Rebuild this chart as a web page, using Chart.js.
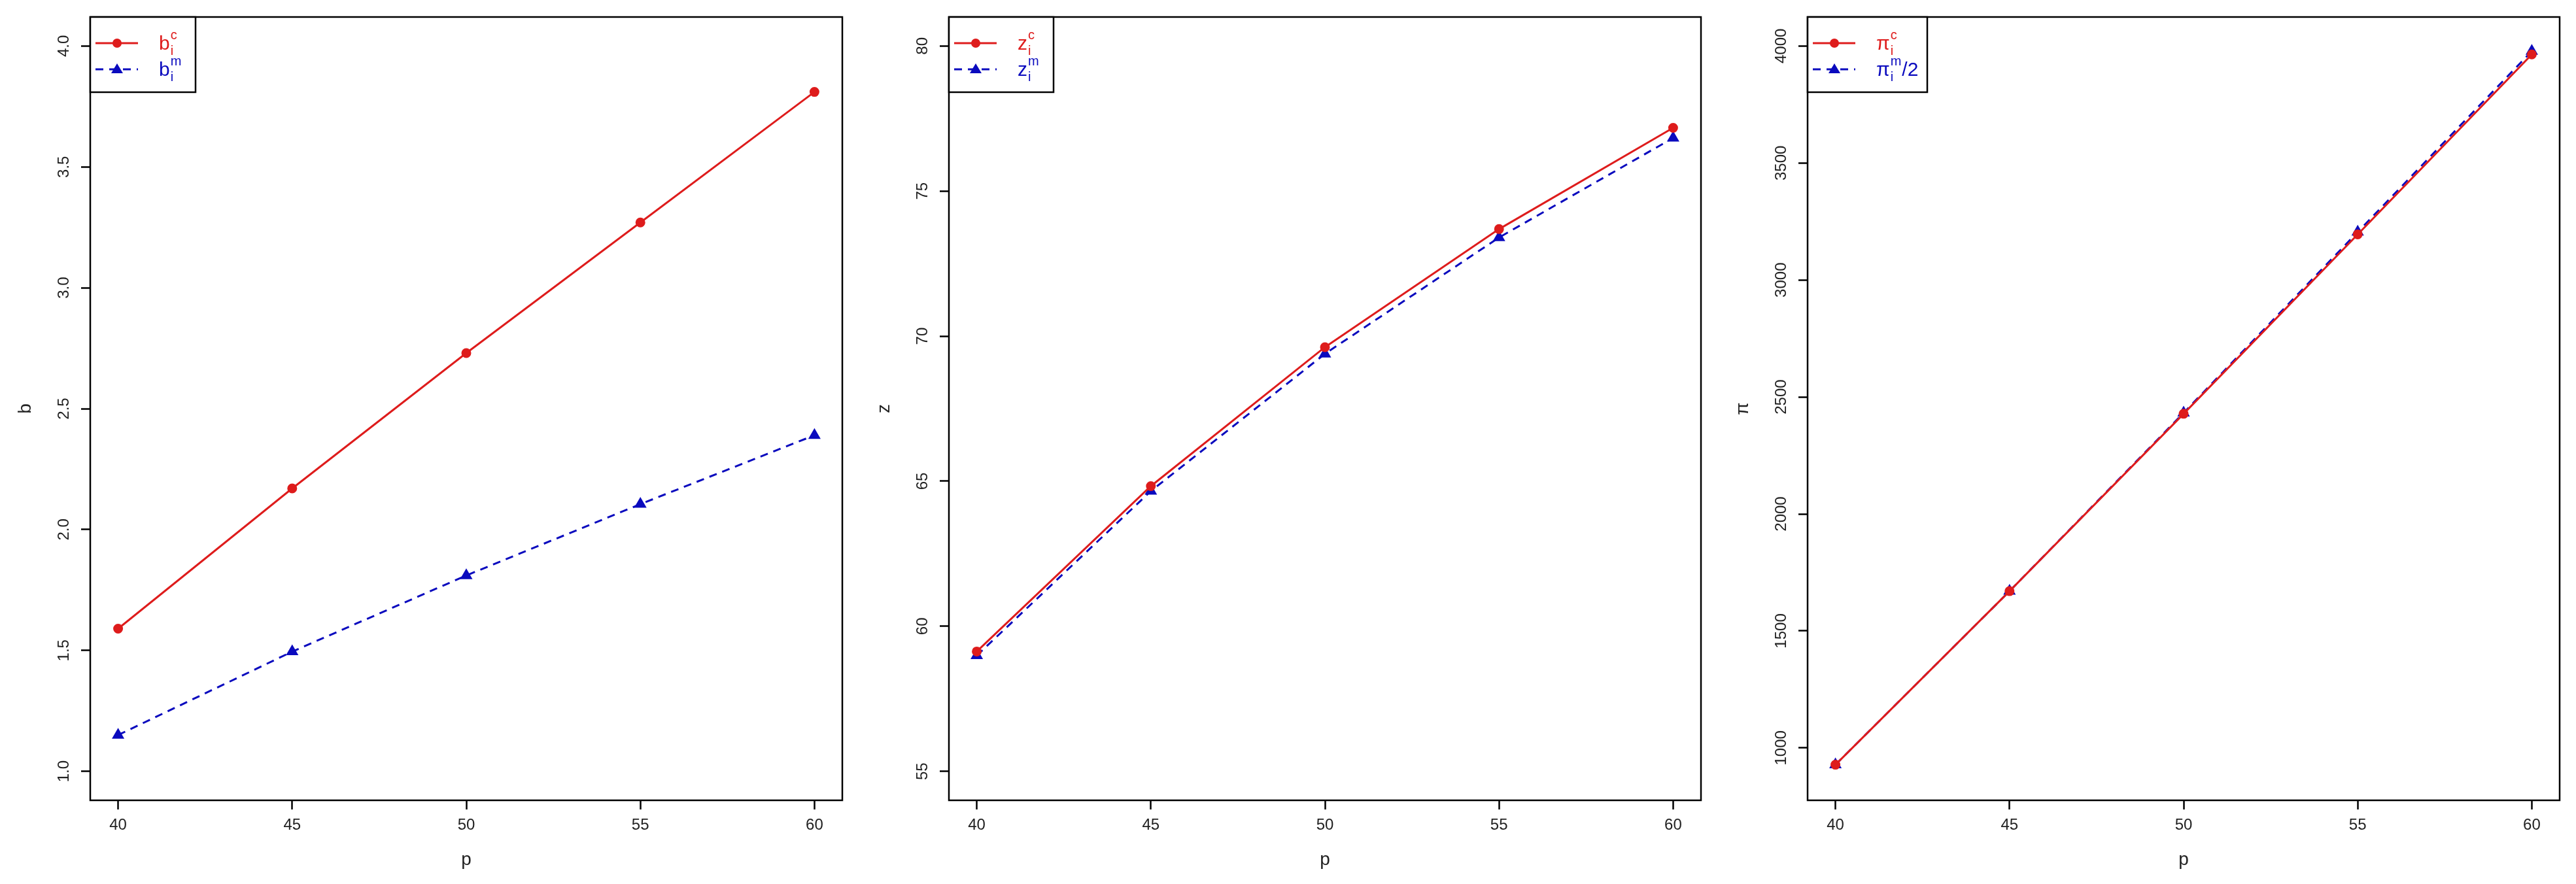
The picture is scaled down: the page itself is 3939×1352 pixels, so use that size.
<!DOCTYPE html>
<html>
<head>
<meta charset="utf-8">
<script src="https://cdn.jsdelivr.net/npm/chart.js@4"></script>
<style>
  body { margin: 0; background: #fff; }
  .row { display: flex; width: 3939px; height: 1352px; }
  canvas { display: block; }
</style>
</head>
<body>
<div class="row">
  <canvas id="chartB" width="1313" height="1352"></canvas>
  <canvas id="chartZ" width="1313" height="1352"></canvas>
  <canvas id="chartPi" width="1313" height="1352"></canvas>
</div>
<script>
// Data
const pValues = [40, 45, 50, 55, 60];
const xTicks = [40, 45, 50, 55, 60];

const bC = [1.59, 2.17, 2.73, 3.27, 3.81];
const bM = [1.15, 1.495, 1.81, 2.105, 2.39];
const bTicks = [1.0, 1.5, 2.0, 2.5, 3.0, 3.5, 4.0];

const zC = [59.13, 64.83, 69.62, 73.69, 77.18];
const zM = [58.99, 64.66, 69.39, 73.40, 76.83];
const zTicks = [55, 60, 65, 70, 75, 80];

const piC = [928, 1670, 2428, 3195, 3964];
const piMHalf = [928, 1670, 2432, 3205, 3978];
const piTicks = [1000, 1500, 2000, 2500, 3000, 3500, 4000];

const RED = 'rgb(222, 28, 28)';
const BLUE = 'rgb(10, 10, 190)';
const FONT = '"Liberation Sans", Arial, sans-serif';

// R-like box, rotated y tick labels and the inset legend
const rStyle = {
    id: 'rStyle',
    afterDraw(chart, args, opts) {
        const ctx = chart.ctx;
        const a = chart.chartArea;
        ctx.save();
        ctx.strokeStyle = '#000';
        ctx.lineWidth = 2.5;
        ctx.strokeRect(a.left, a.top, a.right - a.left, a.bottom - a.top);

        // y tick labels, rotated like R's default
        const ys = chart.scales.y;
        ctx.fillStyle = '#222';
        ctx.font = '24px ' + FONT;
        ctx.textAlign = 'center';
        ctx.textBaseline = 'middle';
        opts.yTicks.forEach(v => {
            const y = ys.getPixelForValue(v);
            ctx.save();
            ctx.translate(a.left - 40, y);
            ctx.rotate(-Math.PI / 2);
            ctx.fillText(opts.yFmt(v), 0, 0);
            ctx.restore();
        });

        // legend
        const L = a.left, T = a.top;
        ctx.fillStyle = '#fff';
        ctx.fillRect(L, T, opts.boxW, 115);
        ctx.strokeRect(L, T, opts.boxW, 115);
        opts.items.forEach((it, i) => {
            const y = T + 40 + i * 40;
            ctx.strokeStyle = it.color;
            ctx.lineWidth = 3;
            ctx.setLineDash(it.dash);
            ctx.beginPath();
            ctx.moveTo(L + 8, y);
            ctx.lineTo(L + 73, y);
            ctx.stroke();
            ctx.setLineDash([]);
            ctx.fillStyle = it.color;
            ctx.beginPath();
            if (it.marker === 'circle') {
                ctx.arc(L + 41, y, 7, 0, Math.PI * 2);
            } else {
                ctx.moveTo(L + 41, y - 9);
                ctx.lineTo(L + 50, y + 6);
                ctx.lineTo(L + 32, y + 6);
                ctx.closePath();
            }
            ctx.fill();

            // symbol with sub/superscript
            let x = L + 105;
            ctx.textAlign = 'left';
            ctx.textBaseline = 'alphabetic';
            ctx.font = '30px ' + FONT;
            ctx.fillText(it.base, x, y + 10);
            x += ctx.measureText(it.base).width + 1;
            ctx.font = '20px ' + FONT;
            ctx.fillText(it.sub, x, y + 18);
            ctx.fillText(it.sup, x, y - 6);
            x += Math.max(ctx.measureText(it.sub).width, ctx.measureText(it.sup).width) + 1;
            if (it.tail) {
                ctx.font = '30px ' + FONT;
                ctx.fillText(it.tail, x, y + 10);
            }
        });
        ctx.restore();
    }
};

function makePanel(id, yTitle, redData, blueData, yMin, yMax, yTicks, yFmt, labels, boxW) {
    const ctx = document.getElementById(id).getContext('2d');
    return new Chart(ctx, {
        type: 'line',
        data: {
            datasets: [{
                data: pValues.map((p, i) => ({ x: p, y: redData[i] })),
                borderColor: RED,
                backgroundColor: RED,
                borderWidth: 3,
                pointStyle: 'circle',
                pointRadius: 6,
                tension: 0
            }, {
                data: pValues.map((p, i) => ({ x: p, y: blueData[i] })),
                borderColor: BLUE,
                backgroundColor: BLUE,
                borderWidth: 3,
                borderDash: [12, 9],
                pointStyle: 'triangle',
                pointRadius: 8,
                tension: 0
            }]
        },
        options: {
            responsive: false,
            animation: false,
            devicePixelRatio: 1,
            layout: { padding: { top: 26, right: 25, left: 0, bottom: 0 } },
            plugins: {
                legend: { display: false },
                tooltip: { enabled: false },
                rStyle: { yTicks: yTicks, yFmt: yFmt, items: labels, boxW: boxW }
            },
            scales: {
                x: {
                    type: 'linear',
                    min: 39.2,
                    max: 60.8,
                    afterBuildTicks: s => { s.ticks = xTicks.map(v => ({ value: v })); },
                    afterFit: s => { s.height = 128; },
                    border: { display: false },
                    grid: { drawOnChartArea: false, drawTicks: true, tickLength: 14, tickColor: '#000', tickWidth: 2.5 },
                    ticks: { color: '#222', font: { size: 24, family: FONT }, padding: 10, maxRotation: 0 },
                    title: { display: true, text: 'p', color: '#222', font: { size: 28, family: FONT }, padding: { top: 0, bottom: 20 } }
                },
                y: {
                    type: 'linear',
                    min: yMin,
                    max: yMax,
                    afterBuildTicks: s => { s.ticks = yTicks.map(v => ({ value: v })); },
                    afterFit: s => { s.width = 138; },
                    border: { display: false },
                    grid: { drawOnChartArea: false, drawTicks: true, tickLength: 14, tickColor: '#000', tickWidth: 2.5 },
                    ticks: { display: false },
                    title: { display: true, text: yTitle, color: '#222', font: { size: 28, family: FONT }, padding: { top: 22, bottom: 0 } }
                }
            }
        },
        plugins: [rStyle]
    });
}

makePanel('chartB', 'b', bC, bM, 0.88, 4.12, bTicks, v => v.toFixed(1), [
    { base: 'b', sub: 'i', sup: 'c', color: RED, dash: [], marker: 'circle' },
    { base: 'b', sub: 'i', sup: 'm', color: BLUE, dash: [12, 9], marker: 'triangle' }
], 161);

makePanel('chartZ', 'z', zC, zM, 54, 81, zTicks, v => String(v), [
    { base: 'z', sub: 'i', sup: 'c', color: RED, dash: [], marker: 'circle' },
    { base: 'z', sub: 'i', sup: 'm', color: BLUE, dash: [12, 9], marker: 'triangle' }
], 160);

makePanel('chartPi', 'π', piC, piMHalf, 776, 4124, piTicks, v => String(v), [
    { base: 'π', sub: 'i', sup: 'c', color: RED, dash: [], marker: 'circle' },
    { base: 'π', sub: 'i', sup: 'm', tail: '/2', color: BLUE, dash: [12, 9], marker: 'triangle' }
], 183);
</script>
</body>
</html>
